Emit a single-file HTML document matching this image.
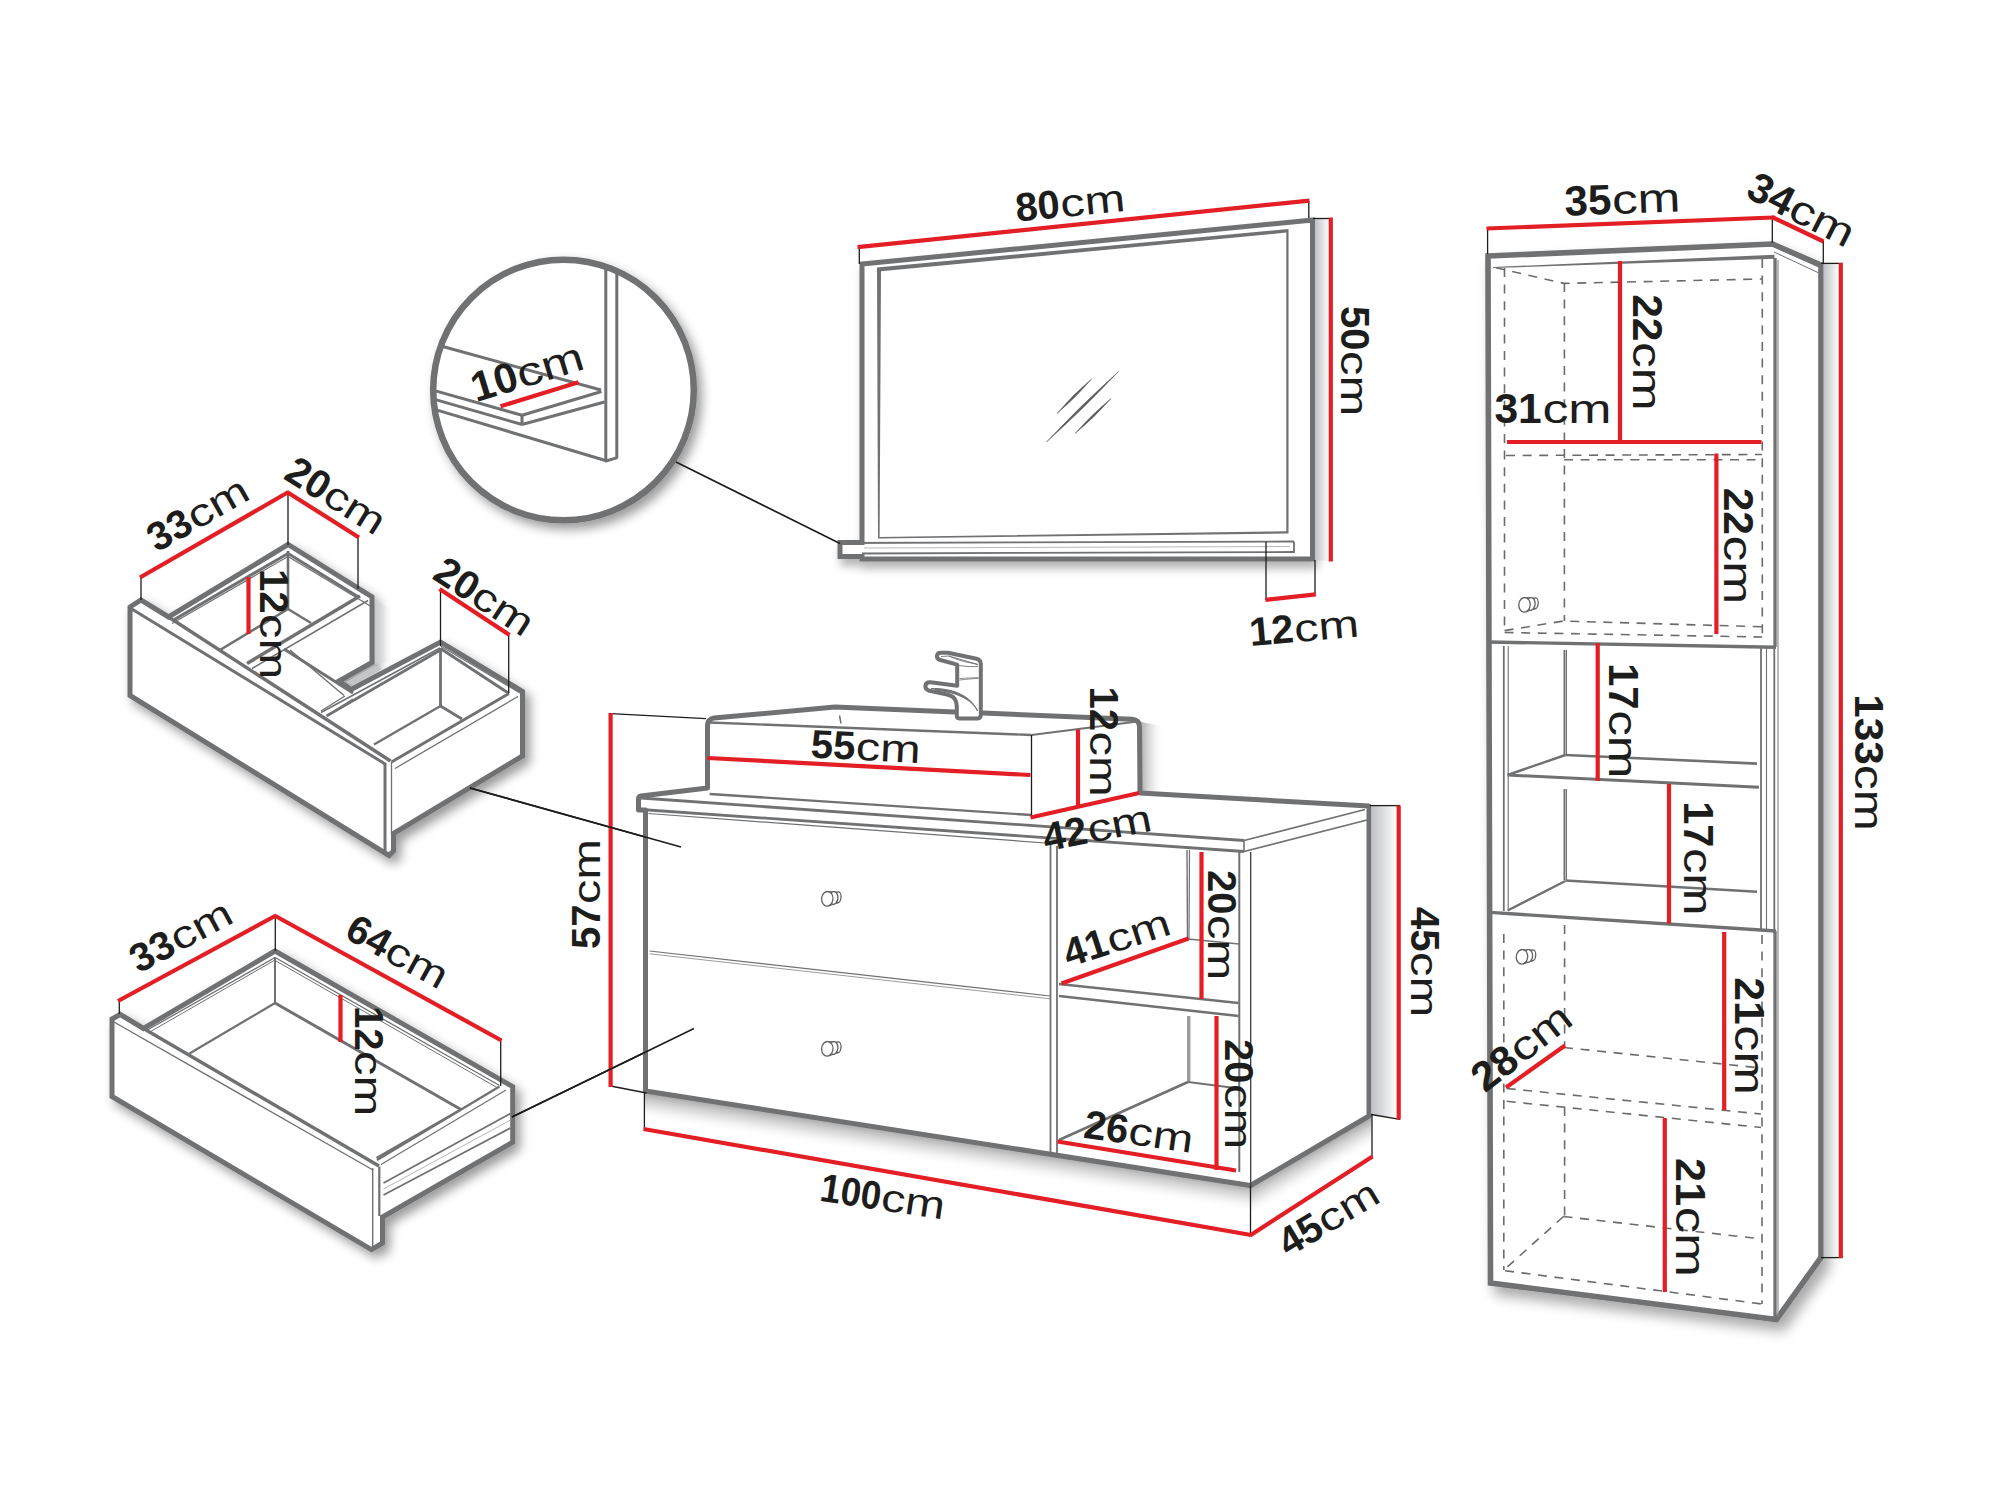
<!DOCTYPE html>
<html><head><meta charset="utf-8"><title>Dimensions</title>
<style>
html,body{margin:0;padding:0;background:#fff;}
body{width:2000px;height:1500px;overflow:hidden;font-family:"Liberation Sans",sans-serif;}
svg{display:block;}
svg text{font-family:"Liberation Sans",sans-serif;}
</style></head><body>
<svg width="2000" height="1500" viewBox="0 0 2000 1500">
<defs>
<filter id="sh" x="-20%" y="-20%" width="150%" height="150%">
<feGaussianBlur in="SourceAlpha" stdDeviation="5.5"/><feOffset dx="5" dy="6" result="b"/>
<feComponentTransfer><feFuncA type="linear" slope="0.4"/></feComponentTransfer>
<feMerge><feMergeNode/><feMergeNode in="SourceGraphic"/></feMerge>
</filter>
<filter id="sh3" x="-10%" y="-10%" width="125%" height="130%">
<feGaussianBlur in="SourceAlpha" stdDeviation="5"/><feOffset dx="3" dy="7" result="b"/>
<feComponentTransfer><feFuncA type="linear" slope="0.3"/></feComponentTransfer>
<feMerge><feMergeNode/><feMergeNode in="SourceGraphic"/></feMerge>
</filter>
<filter id="sh2" x="-20%" y="-10%" width="150%" height="125%">
<feGaussianBlur in="SourceAlpha" stdDeviation="6.5"/><feOffset dx="6" dy="9" result="b"/>
<feComponentTransfer><feFuncA type="linear" slope="0.34"/></feComponentTransfer>
<feMerge><feMergeNode/><feMergeNode in="SourceGraphic"/></feMerge>
</filter>
<linearGradient id="side" x1="0" x2="1" y1="0" y2="0"><stop offset="0" stop-color="#bfc0c4"/><stop offset="1" stop-color="#ffffff"/></linearGradient>
<clipPath id="cclip"><circle cx="563.5" cy="390" r="128.5"/></clipPath>
</defs>
<rect width="2000" height="1500" fill="#ffffff"/>
<g id="mirror">
<g filter="url(#sh3)">
<path d="M840.0,542.5 L862.0,542.5 L862.0,264.0 L1312.5,220.0 L1312.5,559.0 L862.0,559.0 L862.0,556.5 L840.0,556.5 Z" stroke="#707173" stroke-width="5" fill="#fff" />
</g>
<rect x="1315" y="218.5" width="14" height="342" fill="url(#side)"/>
<line x1="1313.0" y1="218.5" x2="1329.0" y2="218.5" stroke="#1d1d1b" stroke-width="1.3" />
<path d="M877,267.5 L1288.5,229 L1288.5,533.5 L878,538.5 Z M881,271.3 L1286.3,232.6 L1286.3,531.2 L879.6,536.9 Z" fill="#707173" fill-rule="evenodd" stroke="none"/>
<line x1="841.0" y1="543.0" x2="1294.0" y2="541.5" stroke="#707173" stroke-width="1.8" />
<line x1="1294.0" y1="541.5" x2="1294.0" y2="553.0" stroke="#707173" stroke-width="1.8" />
<line x1="862.0" y1="553.5" x2="1294.0" y2="552.0" stroke="#707173" stroke-width="1.8" />
<line x1="864.0" y1="548.0" x2="1290.0" y2="546.5" stroke="#b8b9bc" stroke-width="1" />
<path d="M1046.5,442 Q1080.9,405.15 1118.5,371.5 Q1084.1,408.35 1046.5,442 Z" fill="#5d5e62" stroke="#5d5e62" stroke-width="0.5"/>
<path d="M1057,413.5 Q1072.75,394.75 1091.5,379 Q1075.75,397.75 1057,413.5 Z" fill="#5d5e62" stroke="#5d5e62" stroke-width="0.5"/>
<path d="M1075,433.6 Q1091.5,414.55 1111,398.5 Q1094.5,417.55 1075,433.6 Z" fill="#5d5e62" stroke="#5d5e62" stroke-width="0.5"/>
<line x1="859.3" y1="247.0" x2="859.3" y2="264.0" stroke="#1d1d1b" stroke-width="1.3" />
<line x1="1308.8" y1="201.0" x2="1308.8" y2="218.0" stroke="#1d1d1b" stroke-width="1.3" />
<line x1="857.5" y1="247.2" x2="1309.5" y2="200.6" stroke="#e31e24" stroke-width="4.2" stroke-linecap="butt"/>
<line x1="1330.8" y1="217.5" x2="1330.8" y2="561.5" stroke="#e31e24" stroke-width="4.2" stroke-linecap="butt"/>
<line x1="1266.0" y1="542.0" x2="1266.0" y2="600.0" stroke="#1d1d1b" stroke-width="1.3" />
<line x1="1315.0" y1="560.0" x2="1315.0" y2="594.0" stroke="#1d1d1b" stroke-width="1.3" />
<line x1="1265.5" y1="599.8" x2="1315.8" y2="594.4" stroke="#e31e24" stroke-width="4.2" stroke-linecap="butt"/>
<g transform="translate(1070.0,202.0) rotate(-5.5)" fill="#1d1d1b"><text x="-55.0" y="14.3" font-size="40.0" font-weight="bold" textLength="44.5" lengthAdjust="spacingAndGlyphs">80</text><text x="-10.0" y="14.3" font-size="39.0" textLength="65.0" lengthAdjust="spacingAndGlyphs">cm</text></g>
<g transform="translate(1355.0,361.0) rotate(90)" fill="#1d1d1b"><text x="-55.0" y="14.3" font-size="40.0" font-weight="bold" textLength="44.5" lengthAdjust="spacingAndGlyphs">50</text><text x="-10.0" y="14.3" font-size="39.0" textLength="65.0" lengthAdjust="spacingAndGlyphs">cm</text></g>
<g transform="translate(1304.0,627.0) rotate(-5)" fill="#1d1d1b"><text x="-55.0" y="14.3" font-size="40.0" font-weight="bold" textLength="44.5" lengthAdjust="spacingAndGlyphs">12</text><text x="-10.0" y="14.3" font-size="39.0" textLength="65.0" lengthAdjust="spacingAndGlyphs">cm</text></g>
</g>
<g id="mag">
<g filter="url(#sh)"><circle cx="563.5" cy="390" r="130.3" fill="#fff" stroke="#707173" stroke-width="6.5"/></g>
<g clip-path="url(#cclip)">
<line x1="605.8" y1="255.0" x2="605.8" y2="461.0" stroke="#707173" stroke-width="3" />
<line x1="616.8" y1="255.0" x2="616.8" y2="458.0" stroke="#707173" stroke-width="3" />
<line x1="605.0" y1="461.2" x2="617.5" y2="457.6" stroke="#707173" stroke-width="3" />
<line x1="430.0" y1="343.0" x2="601.0" y2="390.0" stroke="#707173" stroke-width="3" />
<line x1="430.0" y1="389.3" x2="522.0" y2="415.3" stroke="#707173" stroke-width="3" />
<line x1="522.0" y1="415.3" x2="601.5" y2="391.5" stroke="#707173" stroke-width="3" />
<line x1="522.0" y1="415.3" x2="522.0" y2="424.5" stroke="#707173" stroke-width="3" />
<line x1="430.0" y1="398.0" x2="522.0" y2="424.5" stroke="#707173" stroke-width="3" />
<line x1="522.0" y1="424.5" x2="604.5" y2="402.0" stroke="#707173" stroke-width="3" />
<line x1="430.0" y1="408.0" x2="605.5" y2="460.5" stroke="#707173" stroke-width="3" />
</g>
<line x1="500.5" y1="406.3" x2="578.5" y2="382.3" stroke="#e31e24" stroke-width="4.2" stroke-linecap="butt"/>
<g transform="translate(527.0,371.0) rotate(-17)" fill="#1d1d1b"><text x="-57.8" y="15.015" font-size="42.0" font-weight="bold" textLength="46.7" lengthAdjust="spacingAndGlyphs">10</text><text x="-10.5" y="15.015" font-size="41.0" textLength="68.2" lengthAdjust="spacingAndGlyphs">cm</text></g>
<line x1="676.0" y1="462.0" x2="840.0" y2="543.5" stroke="#1d1d1b" stroke-width="1.7" />
</g>
<g id="udrawer">
<g filter="url(#sh)">
<path d="M130.0,607.0 L141.0,600.0 L168.5,617.0 L288.0,544.5 L372.0,597.0 L372.0,662.5 L339.0,681.0 L351.0,689.5 L440.5,642.0 L522.5,691.5 L522.5,756.0 L393.5,833.5 L393.5,851.0 L389.0,855.5 L130.0,695.5 Z" stroke="#707173" stroke-width="5" fill="#fff" stroke-linejoin="miter"/>
</g>
<path d="M346.0,682.0 L374.0,666.0 L382.0,668.5 L353.0,685.5 Z" stroke="none" stroke-width="0" fill="#c4c5c7" />
<linearGradient id="ng" x1="0" x2="1" y1="0" y2="0"><stop offset="0" stop-color="#c9cacc"/><stop offset="1" stop-color="#fff" stop-opacity="0"/></linearGradient>
<path d="M375.0,600.0 L395.0,612.0 L395.0,660.0 L375.0,664.0 Z" stroke="none" stroke-width="0" fill="url(#ng)" />
<line x1="131.0" y1="608.5" x2="386.0" y2="764.5" stroke="#707173" stroke-width="3" />
<line x1="168.5" y1="617.0" x2="390.5" y2="761.0" stroke="#707173" stroke-width="3.5" />
<line x1="385.0" y1="764.0" x2="385.0" y2="853.0" stroke="#707173" stroke-width="3" />
<line x1="391.5" y1="762.0" x2="391.5" y2="835.0" stroke="#707173" stroke-width="1.3" />
<line x1="173.5" y1="620.0" x2="288.0" y2="553.5" stroke="#707173" stroke-width="3" />
<line x1="172.0" y1="623.5" x2="288.0" y2="556.5" stroke="#707173" stroke-width="1.2" />
<line x1="288.0" y1="553.5" x2="358.5" y2="597.0" stroke="#707173" stroke-width="3" />
<line x1="288.0" y1="556.5" x2="372.0" y2="607.0" stroke="#707173" stroke-width="1.2" />
<line x1="288.0" y1="551.0" x2="288.0" y2="609.0" stroke="#707173" stroke-width="2.6" />
<line x1="288.0" y1="609.0" x2="311.0" y2="623.0" stroke="#707173" stroke-width="2.6" />
<line x1="288.0" y1="609.0" x2="220.0" y2="650.0" stroke="#707173" stroke-width="2.6" />
<line x1="220.0" y1="650.0" x2="250.0" y2="632.0" stroke="#707173" stroke-width="1.2" />
<line x1="360.0" y1="596.0" x2="247.0" y2="663.5" stroke="#707173" stroke-width="3.5" />
<line x1="368.0" y1="600.5" x2="252.0" y2="668.5" stroke="#707173" stroke-width="1.6" />
<line x1="284.0" y1="649.0" x2="353.0" y2="693.0" stroke="#707173" stroke-width="3" />
<line x1="290.0" y1="650.0" x2="344.0" y2="695.5" stroke="#707173" stroke-width="1.4" />
<line x1="321.0" y1="711.0" x2="345.0" y2="696.0" stroke="#707173" stroke-width="1.4" />
<line x1="328.0" y1="715.0" x2="353.0" y2="699.0" stroke="#707173" stroke-width="1.4" />
<line x1="321.0" y1="712.5" x2="440.0" y2="648.0" stroke="#707173" stroke-width="1.6" />
<line x1="326.5" y1="716.0" x2="440.5" y2="650.0" stroke="#707173" stroke-width="2.6" />
<line x1="440.5" y1="648.5" x2="509.0" y2="693.5" stroke="#707173" stroke-width="3" />
<line x1="440.5" y1="646.0" x2="520.0" y2="693.0" stroke="#707173" stroke-width="1.2" />
<line x1="440.5" y1="648.0" x2="440.5" y2="706.0" stroke="#707173" stroke-width="2.8" />
<line x1="440.5" y1="706.0" x2="462.0" y2="719.0" stroke="#707173" stroke-width="2.8" />
<line x1="440.5" y1="706.0" x2="374.0" y2="744.5" stroke="#707173" stroke-width="2.4" />
<line x1="509.0" y1="693.5" x2="391.5" y2="762.0" stroke="#707173" stroke-width="3" />
<line x1="518.0" y1="696.5" x2="395.0" y2="768.5" stroke="#707173" stroke-width="1.3" />
<line x1="141.0" y1="576.5" x2="141.0" y2="600.0" stroke="#1d1d1b" stroke-width="1.3" />
<line x1="288.0" y1="493.0" x2="288.0" y2="545.0" stroke="#1d1d1b" stroke-width="1.3" />
<line x1="358.0" y1="537.0" x2="358.0" y2="589.0" stroke="#1d1d1b" stroke-width="1.3" />
<line x1="440.5" y1="589.5" x2="440.5" y2="646.0" stroke="#1d1d1b" stroke-width="1.3" />
<line x1="508.7" y1="634.0" x2="508.7" y2="693.0" stroke="#1d1d1b" stroke-width="1.3" />
<line x1="140.0" y1="577.5" x2="288.5" y2="492.0" stroke="#e31e24" stroke-width="4.2" stroke-linecap="butt"/>
<line x1="287.0" y1="492.0" x2="359.0" y2="537.5" stroke="#e31e24" stroke-width="4.2" stroke-linecap="butt"/>
<line x1="439.5" y1="589.0" x2="509.5" y2="635.0" stroke="#e31e24" stroke-width="4.2" stroke-linecap="butt"/>
<line x1="248.5" y1="577.0" x2="248.5" y2="634.0" stroke="#e31e24" stroke-width="4.2" stroke-linecap="butt"/>
<g transform="translate(197.5,513.0) rotate(-29.7)" fill="#1d1d1b"><text x="-55.0" y="14.3" font-size="40.0" font-weight="bold" textLength="44.5" lengthAdjust="spacingAndGlyphs">33</text><text x="-10.0" y="14.3" font-size="39.0" textLength="65.0" lengthAdjust="spacingAndGlyphs">cm</text></g>
<g transform="translate(336.5,495.0) rotate(32)" fill="#1d1d1b"><text x="-55.0" y="14.3" font-size="40.0" font-weight="bold" textLength="44.5" lengthAdjust="spacingAndGlyphs">20</text><text x="-10.0" y="14.3" font-size="39.0" textLength="65.0" lengthAdjust="spacingAndGlyphs">cm</text></g>
<g transform="translate(485.0,596.0) rotate(33)" fill="#1d1d1b"><text x="-55.0" y="14.3" font-size="40.0" font-weight="bold" textLength="44.5" lengthAdjust="spacingAndGlyphs">20</text><text x="-10.0" y="14.3" font-size="39.0" textLength="65.0" lengthAdjust="spacingAndGlyphs">cm</text></g>
<g transform="translate(274.5,624.0) rotate(90)" fill="#1d1d1b"><text x="-55.0" y="14.3" font-size="40.0" font-weight="bold" textLength="44.5" lengthAdjust="spacingAndGlyphs">12</text><text x="-10.0" y="14.3" font-size="39.0" textLength="65.0" lengthAdjust="spacingAndGlyphs">cm</text></g>
<line x1="470.0" y1="788.0" x2="681.0" y2="847.0" stroke="#1d1d1b" stroke-width="1.6" />
</g>
<g id="bdrawer">
<g filter="url(#sh)">
<path d="M112.0,1019.0 L120.3,1014.5 L143.5,1028.5 L275.0,951.0 L512.7,1086.7 L512.7,1142.2 L382.5,1217.0 L382.5,1243.0 L371.5,1249.7 L112.0,1096.5 Z" stroke="#707173" stroke-width="5" fill="#fff" />
</g>
<line x1="114.0" y1="1022.0" x2="373.0" y2="1170.0" stroke="#707173" stroke-width="1.4" />
<line x1="143.5" y1="1028.5" x2="379.0" y2="1166.0" stroke="#707173" stroke-width="3.5" />
<line x1="372.7" y1="1168.0" x2="372.7" y2="1247.0" stroke="#707173" stroke-width="1.4" />
<line x1="379.3" y1="1166.5" x2="379.3" y2="1216.0" stroke="#707173" stroke-width="2.2" />
<line x1="146.5" y1="1030.5" x2="275.0" y2="957.5" stroke="#707173" stroke-width="1.3" />
<line x1="148.0" y1="1033.0" x2="275.0" y2="960.0" stroke="#707173" stroke-width="1.0" />
<line x1="276.0" y1="958.0" x2="499.5" y2="1085.5" stroke="#707173" stroke-width="1.3" />
<line x1="276.0" y1="961.0" x2="497.0" y2="1087.5" stroke="#707173" stroke-width="1.0" />
<line x1="275.0" y1="957.0" x2="275.0" y2="1003.0" stroke="#707173" stroke-width="2" />
<line x1="275.0" y1="1003.0" x2="189.5" y2="1053.5" stroke="#707173" stroke-width="2.2" />
<line x1="275.0" y1="1003.0" x2="461.0" y2="1109.5" stroke="#707173" stroke-width="3" />
<line x1="461.0" y1="1109.5" x2="376.5" y2="1158.0" stroke="#707173" stroke-width="2.2" />
<line x1="499.5" y1="1086.5" x2="377.0" y2="1160.0" stroke="#707173" stroke-width="2.4" />
<line x1="506.0" y1="1090.0" x2="381.0" y2="1164.5" stroke="#707173" stroke-width="1.2" />
<line x1="510.5" y1="1113.5" x2="383.5" y2="1183.0" stroke="#707173" stroke-width="1.8" />
<line x1="510.5" y1="1128.0" x2="383.5" y2="1195.0" stroke="#707173" stroke-width="1.8" />
<line x1="510.5" y1="1120.0" x2="383.5" y2="1189.0" stroke="#b5b6b8" stroke-width="1" />
<line x1="119.3" y1="1000.0" x2="119.3" y2="1014.0" stroke="#1d1d1b" stroke-width="1.3" />
<line x1="275.3" y1="916.0" x2="275.3" y2="951.0" stroke="#1d1d1b" stroke-width="1.3" />
<line x1="500.7" y1="1040.0" x2="500.7" y2="1086.0" stroke="#1d1d1b" stroke-width="1.3" />
<line x1="118.0" y1="1001.0" x2="276.0" y2="915.5" stroke="#e31e24" stroke-width="4.2" stroke-linecap="butt"/>
<line x1="274.5" y1="915.5" x2="501.5" y2="1040.5" stroke="#e31e24" stroke-width="4.2" stroke-linecap="butt"/>
<line x1="340.5" y1="995.0" x2="340.5" y2="1042.0" stroke="#e31e24" stroke-width="4.2" stroke-linecap="butt"/>
<g transform="translate(180.5,935.0) rotate(-28.3)" fill="#1d1d1b"><text x="-55.0" y="14.3" font-size="40.0" font-weight="bold" textLength="44.5" lengthAdjust="spacingAndGlyphs">33</text><text x="-10.0" y="14.3" font-size="39.0" textLength="65.0" lengthAdjust="spacingAndGlyphs">cm</text></g>
<g transform="translate(398.0,951.0) rotate(28.8)" fill="#1d1d1b"><text x="-55.0" y="14.3" font-size="40.0" font-weight="bold" textLength="44.5" lengthAdjust="spacingAndGlyphs">64</text><text x="-10.0" y="14.3" font-size="39.0" textLength="65.0" lengthAdjust="spacingAndGlyphs">cm</text></g>
<g transform="translate(369.0,1061.0) rotate(90)" fill="#1d1d1b"><text x="-55.0" y="14.3" font-size="40.0" font-weight="bold" textLength="44.5" lengthAdjust="spacingAndGlyphs">12</text><text x="-10.0" y="14.3" font-size="39.0" textLength="65.0" lengthAdjust="spacingAndGlyphs">cm</text></g>
<line x1="512.0" y1="1117.0" x2="694.0" y2="1028.5" stroke="#1d1d1b" stroke-width="1.6" />
</g>
<g id="vanity">
<linearGradient id="vb1" gradientUnits="userSpaceOnUse" x1="645" y1="1093" x2="641" y2="1119"><stop offset="0" stop-color="#8c8c8c" stop-opacity="0.75"/><stop offset="0.5" stop-color="#b5b5b5" stop-opacity="0.35"/><stop offset="1" stop-color="#fff" stop-opacity="0"/></linearGradient>
<linearGradient id="vb2" gradientUnits="userSpaceOnUse" x1="1250.5" y1="1187" x2="1263.5" y2="1209.5"><stop offset="0" stop-color="#8c8c8c" stop-opacity="0.75"/><stop offset="0.5" stop-color="#b5b5b5" stop-opacity="0.35"/><stop offset="1" stop-color="#fff" stop-opacity="0"/></linearGradient>
<linearGradient id="vb3" x1="0" x2="1" y1="0" y2="0"><stop offset="0" stop-color="#8c8c8c" stop-opacity="0.7"/><stop offset="0.5" stop-color="#b5b5b5" stop-opacity="0.3"/><stop offset="1" stop-color="#fff" stop-opacity="0"/></linearGradient>
<path d="M644,1091 L1250.5,1186 L1250.5,1216 L644,1121 Z" fill="url(#vb1)"/>
<path d="M1250.5,1186 L1371.5,1116 L1371.5,1146 L1250.5,1216 Z" fill="url(#vb2)"/>
<path d="M1141,722 L1164,726 L1164,793 L1141,793 Z" fill="url(#vb3)"/>
<path d="M707.5,788 L641,796 Q638.5,796.3 638.5,799 L638.5,810 L645.5,810 L645.5,1091 L1250.5,1185.5 L1369,1116 L1369,806 L1140,793 L1139.5,727 Q1139.5,720 1132,719.3 L983,713 L955,712 L835,707 L714,718 Q707.5,719 707.5,726 Z" stroke="#707173" stroke-width="5" fill="#fff" stroke-linejoin="round"/>
<path d="M1371.5,806 L1397,806 L1397,1119 L1371.5,1114.5 Z" fill="url(#side)"/>
<line x1="1370.0" y1="805.6" x2="1400.0" y2="805.6" stroke="#1d1d1b" stroke-width="1.3" />
<line x1="1371.0" y1="1114.5" x2="1400.0" y2="1119.3" stroke="#1d1d1b" stroke-width="1.3" />
<line x1="709.6" y1="722.5" x2="1031.5" y2="735.0" stroke="#707173" stroke-width="2.4" />
<line x1="1031.5" y1="735.0" x2="1137.5" y2="721.5" stroke="#707173" stroke-width="2.2" />
<line x1="709.6" y1="794.0" x2="1031.5" y2="815.0" stroke="#707173" stroke-width="2.4" />
<line x1="1031.5" y1="735.0" x2="1031.5" y2="816.0" stroke="#1d1d1b" stroke-width="1.3" />
<line x1="839.5" y1="715.5" x2="841.0" y2="723.5" stroke="#707173" stroke-width="1.5" />
<path d="M959.5,718.4 Q956.8,718.4 956.8,715.5 L956.8,708 C956.8,699 954,696 946,694.2 L929.5,690.8 Q925,689.5 925.4,686 Q925.8,682 930.5,682.3 L957.2,685.8 L957.2,664.6 L939.5,659.8 Q936.5,658.5 937,655.5 Q937.6,652.6 941,652.7 L948,652.8 L976.5,658.7 Q980.8,659.8 980.8,664 L980.8,715 Q980.8,718.4 977.5,718.4 Z" stroke="#707173" stroke-width="4" fill="#fff" stroke-linejoin="round"/>
<path d="M941,656.5 L949,656 L978,664.5 M949,656 C958,660.5 968,662.5 978,664.5 M959,665.5 C966,666.5 973,667 978,666.5" stroke="#707173" stroke-width="0.9" fill="none"/>
<path d="M959.5,678.5 C966,678.2 973,677.8 978.5,677.6 M959.5,680 C966,679.3 973,678.6 978.5,678.4" stroke="#707173" stroke-width="0.8" fill="none"/>
<path d="M931,688.5 C950,688 970,694 977.5,711 C972,699 955,692 937,690.5" stroke="#707173" stroke-width="1" fill="#707173"/>
<line x1="641.0" y1="798.0" x2="1244.0" y2="840.5" stroke="#707173" stroke-width="2.8" />
<line x1="641.0" y1="809.5" x2="1244.0" y2="851.5" stroke="#707173" stroke-width="2.8" />
<line x1="1244.0" y1="840.5" x2="1244.0" y2="851.5" stroke="#707173" stroke-width="1.6" />
<line x1="1244.0" y1="840.5" x2="1365.0" y2="809.5" stroke="#707173" stroke-width="1.8" />
<line x1="1244.0" y1="851.5" x2="1367.0" y2="820.0" stroke="#707173" stroke-width="1.8" />
<line x1="648.5" y1="813.5" x2="1052.0" y2="843.5" stroke="#707173" stroke-width="1.2" />
<line x1="649.5" y1="951.0" x2="1050.0" y2="996.0" stroke="#707173" stroke-width="1.2" />
<line x1="649.5" y1="953.8" x2="1050.0" y2="998.8" stroke="#9a9b9d" stroke-width="1" />
<line x1="1050.5" y1="843.0" x2="1050.5" y2="1154.0" stroke="#707173" stroke-width="1.8" />
<line x1="1057.0" y1="846.0" x2="1057.0" y2="1155.0" stroke="#707173" stroke-width="1.8" />
<line x1="1239.3" y1="852.0" x2="1239.3" y2="1172.0" stroke="#707173" stroke-width="2" />
<line x1="1250.7" y1="852.0" x2="1250.7" y2="1186.0" stroke="#3c3c3c" stroke-width="1.3" />
<line x1="1187.0" y1="850.0" x2="1187.5" y2="939.0" stroke="#707173" stroke-width="1.4" />
<line x1="1189.5" y1="850.0" x2="1189.0" y2="939.0" stroke="#707173" stroke-width="1.2" />
<line x1="1188.0" y1="939.0" x2="1239.0" y2="944.0" stroke="#707173" stroke-width="1.6" />
<line x1="1059.0" y1="984.0" x2="1238.5" y2="1003.0" stroke="#707173" stroke-width="2.6" />
<line x1="1059.0" y1="996.0" x2="1238.5" y2="1016.0" stroke="#707173" stroke-width="2.6" />
<line x1="1188.0" y1="1016.0" x2="1188.0" y2="1082.0" stroke="#707173" stroke-width="1.4" />
<line x1="1189.8" y1="1016.0" x2="1189.8" y2="1082.0" stroke="#707173" stroke-width="1.0" />
<line x1="1059.0" y1="1140.0" x2="1188.0" y2="1082.0" stroke="#707173" stroke-width="2.6" />
<line x1="1188.0" y1="1082.0" x2="1239.0" y2="1088.5" stroke="#707173" stroke-width="2.2" />
<g stroke="#5f6062" stroke-width="1.3" fill="#fff"><path d="M826.8,891.6 L838.3,892.2 L838.3,902.6 L827.8,906.0 Z" stroke="none"/><ellipse cx="838.1" cy="897.3" rx="2.9" ry="5.4" transform="rotate(5 838.1 897.3)"/><path d="M826.8,891.6 L837.5,892.0 M828.3,905.9 L838.9,902.5" fill="none" stroke-width="1.1"/><ellipse cx="833.6" cy="898.0" rx="4.3" ry="6.3" transform="rotate(5 833.6 898.0)"/><ellipse cx="827.3" cy="898.8" rx="5.7" ry="7.3" transform="rotate(5 827.3 898.8)"/></g>
<g stroke="#5f6062" stroke-width="1.3" fill="#fff"><path d="M826.8,1041.6 L838.3,1042.2 L838.3,1052.6 L827.8,1056.0 Z" stroke="none"/><ellipse cx="838.1" cy="1047.3" rx="2.9" ry="5.4" transform="rotate(5 838.1 1047.3)"/><path d="M826.8,1041.6 L837.5,1042.0 M828.3,1055.9 L838.9,1052.5" fill="none" stroke-width="1.1"/><ellipse cx="833.6" cy="1048.0" rx="4.3" ry="6.3" transform="rotate(5 833.6 1048.0)"/><ellipse cx="827.3" cy="1048.8" rx="5.7" ry="7.3" transform="rotate(5 827.3 1048.8)"/></g>
<line x1="610.6" y1="713.6" x2="706.0" y2="718.6" stroke="#1d1d1b" stroke-width="1.3" />
<line x1="610.6" y1="1086.0" x2="646.6" y2="1093.0" stroke="#1d1d1b" stroke-width="1.3" />
<line x1="610.6" y1="713.0" x2="610.6" y2="1087.0" stroke="#e31e24" stroke-width="4.2" stroke-linecap="butt"/>
<line x1="707.5" y1="758.0" x2="1030.5" y2="775.0" stroke="#e31e24" stroke-width="4.2" stroke-linecap="butt"/>
<line x1="1078.0" y1="729.5" x2="1078.0" y2="805.0" stroke="#e31e24" stroke-width="4.2" stroke-linecap="butt"/>
<line x1="1030.5" y1="817.5" x2="1139.0" y2="793.0" stroke="#e31e24" stroke-width="4.2" stroke-linecap="butt"/>
<line x1="1061.5" y1="983.5" x2="1188.5" y2="938.5" stroke="#e31e24" stroke-width="4.2" stroke-linecap="butt"/>
<line x1="1201.5" y1="852.0" x2="1201.5" y2="999.0" stroke="#e31e24" stroke-width="4.2" stroke-linecap="butt"/>
<line x1="1216.5" y1="1016.0" x2="1216.5" y2="1170.0" stroke="#e31e24" stroke-width="4.2" stroke-linecap="butt"/>
<line x1="1057.5" y1="1141.5" x2="1236.0" y2="1170.5" stroke="#e31e24" stroke-width="4.2" stroke-linecap="butt"/>
<line x1="1398.7" y1="805.5" x2="1398.7" y2="1119.5" stroke="#e31e24" stroke-width="4.2" stroke-linecap="butt"/>
<line x1="644.4" y1="1093.0" x2="644.4" y2="1129.0" stroke="#1d1d1b" stroke-width="1.3" />
<line x1="1250.5" y1="1186.0" x2="1250.5" y2="1235.0" stroke="#1d1d1b" stroke-width="1.3" />
<line x1="1372.0" y1="1114.5" x2="1372.0" y2="1158.0" stroke="#1d1d1b" stroke-width="1.3" />
<line x1="643.5" y1="1129.0" x2="1251.0" y2="1235.0" stroke="#e31e24" stroke-width="4.2" stroke-linecap="butt"/>
<line x1="1250.0" y1="1235.5" x2="1372.5" y2="1156.5" stroke="#e31e24" stroke-width="4.2" stroke-linecap="butt"/>
<g transform="translate(586.0,894.0) rotate(-90)" fill="#1d1d1b"><text x="-55.0" y="14.3" font-size="40.0" font-weight="bold" textLength="44.5" lengthAdjust="spacingAndGlyphs">57</text><text x="-10.0" y="14.3" font-size="39.0" textLength="65.0" lengthAdjust="spacingAndGlyphs">cm</text></g>
<g transform="translate(866.0,746.0) rotate(3)" fill="#1d1d1b"><text x="-55.0" y="14.3" font-size="40.0" font-weight="bold" textLength="44.5" lengthAdjust="spacingAndGlyphs">55</text><text x="-10.0" y="14.3" font-size="39.0" textLength="65.0" lengthAdjust="spacingAndGlyphs">cm</text></g>
<g transform="translate(1104.0,741.5) rotate(90)" fill="#1d1d1b"><text x="-55.0" y="14.3" font-size="40.0" font-weight="bold" textLength="44.5" lengthAdjust="spacingAndGlyphs">12</text><text x="-10.0" y="14.3" font-size="39.0" textLength="65.0" lengthAdjust="spacingAndGlyphs">cm</text></g>
<g transform="translate(1097.0,827.0) rotate(-11)" fill="#1d1d1b"><text x="-55.0" y="14.3" font-size="40.0" font-weight="bold" textLength="44.5" lengthAdjust="spacingAndGlyphs">42</text><text x="-10.0" y="14.3" font-size="39.0" textLength="65.0" lengthAdjust="spacingAndGlyphs">cm</text></g>
<g transform="translate(1116.5,937.0) rotate(-18)" fill="#1d1d1b"><text x="-55.0" y="14.3" font-size="40.0" font-weight="bold" textLength="44.5" lengthAdjust="spacingAndGlyphs">41</text><text x="-10.0" y="14.3" font-size="39.0" textLength="65.0" lengthAdjust="spacingAndGlyphs">cm</text></g>
<g transform="translate(1222.0,925.0) rotate(90)" fill="#1d1d1b"><text x="-55.0" y="14.3" font-size="40.0" font-weight="bold" textLength="44.5" lengthAdjust="spacingAndGlyphs">20</text><text x="-10.0" y="14.3" font-size="39.0" textLength="65.0" lengthAdjust="spacingAndGlyphs">cm</text></g>
<g transform="translate(1239.0,1094.0) rotate(90)" fill="#1d1d1b"><text x="-55.0" y="14.3" font-size="40.0" font-weight="bold" textLength="44.5" lengthAdjust="spacingAndGlyphs">20</text><text x="-10.0" y="14.3" font-size="39.0" textLength="65.0" lengthAdjust="spacingAndGlyphs">cm</text></g>
<g transform="translate(1139.0,1131.0) rotate(8)" fill="#1d1d1b"><text x="-55.0" y="14.3" font-size="40.0" font-weight="bold" textLength="44.5" lengthAdjust="spacingAndGlyphs">26</text><text x="-10.0" y="14.3" font-size="39.0" textLength="65.0" lengthAdjust="spacingAndGlyphs">cm</text></g>
<g transform="translate(1425.0,962.0) rotate(90)" fill="#1d1d1b"><text x="-55.0" y="14.3" font-size="40.0" font-weight="bold" textLength="44.5" lengthAdjust="spacingAndGlyphs">45</text><text x="-10.0" y="14.3" font-size="39.0" textLength="65.0" lengthAdjust="spacingAndGlyphs">cm</text></g>
<g transform="translate(883.0,1196.0) rotate(8.5)" fill="#1d1d1b"><text x="-62.8" y="14.3" font-size="40.0" font-weight="bold" textLength="61.0" lengthAdjust="spacingAndGlyphs">100</text><text x="-1.2" y="14.3" font-size="39.0" textLength="64.0" lengthAdjust="spacingAndGlyphs">cm</text></g>
<g transform="translate(1328.0,1217.0) rotate(-31)" fill="#1d1d1b"><text x="-55.0" y="14.3" font-size="40.0" font-weight="bold" textLength="44.5" lengthAdjust="spacingAndGlyphs">45</text><text x="-10.0" y="14.3" font-size="39.0" textLength="65.0" lengthAdjust="spacingAndGlyphs">cm</text></g>
</g>
<g id="tall">
<g filter="url(#sh2)">
<path d="M1488.0,256.0 L1772.5,244.0 L1821.0,265.0 L1821.0,1257.5 L1776.5,1319.5 L1490.5,1283.0 Z" stroke="#707173" stroke-width="5.6" fill="#fff" />
</g>
<rect x="1823.5" y="263.5" width="15.5" height="994" fill="url(#side)"/>
<line x1="1821.0" y1="263.4" x2="1842.5" y2="263.4" stroke="#1d1d1b" stroke-width="1.3" />
<line x1="1821.0" y1="1257.6" x2="1842.5" y2="1257.6" stroke="#1d1d1b" stroke-width="1.3" />
<path d="M1493.0,267.0 L1774.5,254.8 L1774.5,258.8 L1493.0,268.0 Z" stroke="none" stroke-width="0" fill="#707173" />
<line x1="1772.5" y1="246.0" x2="1819.0" y2="267.0" stroke="#707173" stroke-width="1.2" />
<line x1="1774.0" y1="252.0" x2="1819.0" y2="273.0" stroke="#707173" stroke-width="1.0" />
<line x1="1774.3" y1="258.0" x2="1774.3" y2="1318.0" stroke="#707173" stroke-width="1.8" />
<line x1="1778.0" y1="260.0" x2="1778.0" y2="1316.0" stroke="#8a8b8d" stroke-width="1.2" />
<line x1="1488.0" y1="642.0" x2="1776.0" y2="647.2" stroke="#707173" stroke-width="3.4" />
<line x1="1775.3" y1="258.0" x2="1775.3" y2="647.0" stroke="#707173" stroke-width="2.8" />
<line x1="1775.3" y1="931.0" x2="1775.3" y2="1318.5" stroke="#707173" stroke-width="2.8" />
<line x1="1503.8" y1="646.0" x2="1503.8" y2="911.0" stroke="#707173" stroke-width="1.8" />
<line x1="1508.2" y1="646.0" x2="1508.2" y2="909.0" stroke="#707173" stroke-width="1.1" />
<line x1="1564.5" y1="650.0" x2="1564.5" y2="755.0" stroke="#707173" stroke-width="2" />
<line x1="1566.5" y1="650.0" x2="1566.5" y2="755.0" stroke="#707173" stroke-width="1.0" />
<line x1="1564.5" y1="789.0" x2="1564.5" y2="880.0" stroke="#707173" stroke-width="2" />
<line x1="1566.5" y1="789.0" x2="1566.5" y2="880.0" stroke="#707173" stroke-width="1.0" />
<line x1="1761.0" y1="648.0" x2="1761.0" y2="930.0" stroke="#707173" stroke-width="1.8" />
<line x1="1766.5" y1="648.0" x2="1766.5" y2="930.0" stroke="#707173" stroke-width="1.1" />
<line x1="1507.6" y1="775.0" x2="1759.0" y2="787.2" stroke="#707173" stroke-width="3" />
<line x1="1565.4" y1="755.0" x2="1757.0" y2="763.6" stroke="#707173" stroke-width="2.6" />
<line x1="1507.6" y1="775.0" x2="1565.4" y2="755.0" stroke="#707173" stroke-width="2.4" />
<line x1="1490.0" y1="912.4" x2="1776.0" y2="931.0" stroke="#707173" stroke-width="3.4" />
<line x1="1565.4" y1="880.5" x2="1757.0" y2="891.7" stroke="#707173" stroke-width="2.6" />
<line x1="1507.6" y1="910.5" x2="1565.4" y2="881.0" stroke="#707173" stroke-width="2.4" />
<path d="M1504.5,268.0 L1504.5,631.0" stroke="#6b6b6b" stroke-width="1.6" fill="none" stroke-dasharray="9 7.6"/>
<path d="M1496.0,267.8 L1564.0,283.4 L1762.0,279.0" stroke="#6b6b6b" stroke-width="1.6" fill="none" stroke-dasharray="9 7.6"/>
<path d="M1564.4,283.0 L1564.4,621.0" stroke="#6b6b6b" stroke-width="1.6" fill="none" stroke-dasharray="9 7.6"/>
<path d="M1762.3,259.0 L1762.3,637.0" stroke="#6b6b6b" stroke-width="1.6" fill="none" stroke-dasharray="9 7.6"/>
<path d="M1506.0,455.5 L1762.0,454.5" stroke="#6b6b6b" stroke-width="1.6" fill="none" stroke-dasharray="9 7.6"/>
<path d="M1564.0,459.8 L1762.0,459.8" stroke="#6b6b6b" stroke-width="1.6" fill="none" stroke-dasharray="9 7.6"/>
<path d="M1504.6,630.6 L1563.5,621.0 L1762.2,626.8" stroke="#6b6b6b" stroke-width="1.6" fill="none" stroke-dasharray="9 7.6"/>
<path d="M1504.6,632.5 L1762.2,637.0" stroke="#6b6b6b" stroke-width="1.6" fill="none" stroke-dasharray="9 7.6"/>
<path d="M1503.8,934.0 L1503.8,1270.0" stroke="#6b6b6b" stroke-width="1.6" fill="none" stroke-dasharray="9 7.6"/>
<path d="M1564.6,925.0 L1564.6,1046.0" stroke="#6b6b6b" stroke-width="1.6" fill="none" stroke-dasharray="9 7.6"/>
<path d="M1564.6,1107.0 L1564.6,1216.0" stroke="#6b6b6b" stroke-width="1.6" fill="none" stroke-dasharray="9 7.6"/>
<path d="M1762.0,935.0 L1762.0,1304.0" stroke="#6b6b6b" stroke-width="1.6" fill="none" stroke-dasharray="9 7.6"/>
<path d="M1564.0,1047.5 L1761.0,1068.0" stroke="#6b6b6b" stroke-width="1.6" fill="none" stroke-dasharray="9 7.6"/>
<path d="M1506.7,1088.5 L1761.0,1114.0" stroke="#6b6b6b" stroke-width="1.6" fill="none" stroke-dasharray="9 7.6"/>
<path d="M1506.7,1101.3 L1761.0,1127.5" stroke="#6b6b6b" stroke-width="1.6" fill="none" stroke-dasharray="9 7.6"/>
<path d="M1563.5,1216.5 L1762.0,1239.0" stroke="#6b6b6b" stroke-width="1.6" fill="none" stroke-dasharray="9 7.6"/>
<path d="M1563.5,1216.5 L1505.0,1269.0" stroke="#6b6b6b" stroke-width="1.6" fill="none" stroke-dasharray="9 7.6"/>
<path d="M1505.0,1270.7 L1762.0,1304.0" stroke="#6b6b6b" stroke-width="1.6" fill="none" stroke-dasharray="9 7.6"/>
<g stroke="#5f6062" stroke-width="1.3" fill="#fff"><path d="M1524.0,597.6 L1535.5,598.2 L1535.5,608.6 L1525.0,612.0 Z" stroke="none"/><ellipse cx="1535.3" cy="603.3" rx="2.9" ry="5.4" transform="rotate(5 1535.3 603.3)"/><path d="M1524.0,597.6 L1534.7,598.0 M1525.5,611.9 L1536.1,608.5" fill="none" stroke-width="1.1"/><ellipse cx="1530.8" cy="604.0" rx="4.3" ry="6.3" transform="rotate(5 1530.8 604.0)"/><ellipse cx="1524.5" cy="604.8" rx="5.7" ry="7.3" transform="rotate(5 1524.5 604.8)"/></g>
<g stroke="#5f6062" stroke-width="1.3" fill="#fff"><path d="M1521.5,949.6 L1533.0,950.2 L1533.0,960.6 L1522.5,964.0 Z" stroke="none"/><ellipse cx="1532.8" cy="955.3" rx="2.9" ry="5.4" transform="rotate(5 1532.8 955.3)"/><path d="M1521.5,949.6 L1532.2,950.0 M1523.0,963.9 L1533.6,960.5" fill="none" stroke-width="1.1"/><ellipse cx="1528.3" cy="956.0" rx="4.3" ry="6.3" transform="rotate(5 1528.3 956.0)"/><ellipse cx="1522.0" cy="956.8" rx="5.7" ry="7.3" transform="rotate(5 1522.0 956.8)"/></g>
<line x1="1487.6" y1="228.4" x2="1487.6" y2="254.0" stroke="#1d1d1b" stroke-width="1.3" />
<line x1="1772.3" y1="218.0" x2="1772.3" y2="243.0" stroke="#1d1d1b" stroke-width="1.3" />
<line x1="1823.3" y1="241.0" x2="1823.3" y2="264.0" stroke="#1d1d1b" stroke-width="1.3" />
<line x1="1486.5" y1="228.5" x2="1773.5" y2="217.5" stroke="#e31e24" stroke-width="4.2" stroke-linecap="butt"/>
<line x1="1772.0" y1="217.0" x2="1823.5" y2="241.5" stroke="#e31e24" stroke-width="4.2" stroke-linecap="butt"/>
<line x1="1840.8" y1="263.0" x2="1840.8" y2="1258.0" stroke="#e31e24" stroke-width="4.2" stroke-linecap="butt"/>
<line x1="1620.0" y1="261.0" x2="1620.0" y2="442.0" stroke="#e31e24" stroke-width="4.2" stroke-linecap="butt"/>
<line x1="1507.0" y1="442.0" x2="1761.5" y2="442.0" stroke="#e31e24" stroke-width="4.2" stroke-linecap="butt"/>
<line x1="1716.4" y1="453.5" x2="1716.4" y2="634.0" stroke="#e31e24" stroke-width="4.2" stroke-linecap="butt"/>
<line x1="1597.7" y1="643.0" x2="1597.7" y2="781.0" stroke="#e31e24" stroke-width="4.2" stroke-linecap="butt"/>
<line x1="1669.0" y1="784.0" x2="1669.0" y2="923.5" stroke="#e31e24" stroke-width="4.2" stroke-linecap="butt"/>
<line x1="1724.2" y1="932.0" x2="1724.2" y2="1110.0" stroke="#e31e24" stroke-width="4.2" stroke-linecap="butt"/>
<line x1="1506.0" y1="1087.5" x2="1565.0" y2="1045.5" stroke="#e31e24" stroke-width="4.2" stroke-linecap="butt"/>
<line x1="1664.8" y1="1118.0" x2="1664.8" y2="1292.0" stroke="#e31e24" stroke-width="4.2" stroke-linecap="butt"/>
<g transform="translate(1622.4,198.4) rotate(-2.2)" fill="#1d1d1b"><text x="-58.0" y="15.0865" font-size="42.2" font-weight="bold" textLength="46.9" lengthAdjust="spacingAndGlyphs">35</text><text x="-10.6" y="15.0865" font-size="41.1" textLength="68.6" lengthAdjust="spacingAndGlyphs">cm</text></g>
<g transform="translate(1802.0,209.0) rotate(27)" fill="#1d1d1b"><text x="-57.2" y="14.872000000000002" font-size="41.6" font-weight="bold" textLength="46.3" lengthAdjust="spacingAndGlyphs">34</text><text x="-10.4" y="14.872000000000002" font-size="40.6" textLength="67.6" lengthAdjust="spacingAndGlyphs">cm</text></g>
<g transform="translate(1648.5,352.5) rotate(90)" fill="#1d1d1b"><text x="-58.3" y="15.158000000000001" font-size="42.4" font-weight="bold" textLength="47.2" lengthAdjust="spacingAndGlyphs">22</text><text x="-10.6" y="15.158000000000001" font-size="41.3" textLength="68.9" lengthAdjust="spacingAndGlyphs">cm</text></g>
<g transform="translate(1553.0,407.5) rotate(0)" fill="#1d1d1b"><text x="-58.6" y="15.2295" font-size="42.6" font-weight="bold" textLength="47.4" lengthAdjust="spacingAndGlyphs">31</text><text x="-10.6" y="15.2295" font-size="41.5" textLength="69.2" lengthAdjust="spacingAndGlyphs">cm</text></g>
<g transform="translate(1739.5,546.0) rotate(90)" fill="#1d1d1b"><text x="-58.3" y="15.158000000000001" font-size="42.4" font-weight="bold" textLength="47.2" lengthAdjust="spacingAndGlyphs">22</text><text x="-10.6" y="15.158000000000001" font-size="41.3" textLength="68.9" lengthAdjust="spacingAndGlyphs">cm</text></g>
<g transform="translate(1624.3,720.7) rotate(90)" fill="#1d1d1b"><text x="-57.8" y="15.015" font-size="42.0" font-weight="bold" textLength="46.7" lengthAdjust="spacingAndGlyphs">17</text><text x="-10.5" y="15.015" font-size="41.0" textLength="68.2" lengthAdjust="spacingAndGlyphs">cm</text></g>
<g transform="translate(1699.3,858.4) rotate(90)" fill="#1d1d1b"><text x="-57.2" y="14.872000000000002" font-size="41.6" font-weight="bold" textLength="46.3" lengthAdjust="spacingAndGlyphs">17</text><text x="-10.4" y="14.872000000000002" font-size="40.6" textLength="67.6" lengthAdjust="spacingAndGlyphs">cm</text></g>
<g transform="translate(1750.6,1036.0) rotate(90)" fill="#1d1d1b"><text x="-58.8" y="15.301000000000002" font-size="42.8" font-weight="bold" textLength="47.6" lengthAdjust="spacingAndGlyphs">21</text><text x="-10.7" y="15.301000000000002" font-size="41.7" textLength="69.5" lengthAdjust="spacingAndGlyphs">cm</text></g>
<g transform="translate(1521.0,1046.5) rotate(-38)" fill="#1d1d1b"><text x="-57.2" y="14.872000000000002" font-size="41.6" font-weight="bold" textLength="46.3" lengthAdjust="spacingAndGlyphs">28</text><text x="-10.4" y="14.872000000000002" font-size="40.6" textLength="67.6" lengthAdjust="spacingAndGlyphs">cm</text></g>
<g transform="translate(1691.0,1217.5) rotate(90)" fill="#1d1d1b"><text x="-59.4" y="15.444000000000003" font-size="43.2" font-weight="bold" textLength="48.1" lengthAdjust="spacingAndGlyphs">21</text><text x="-10.8" y="15.444000000000003" font-size="42.1" textLength="70.2" lengthAdjust="spacingAndGlyphs">cm</text></g>
<g transform="translate(1870.0,762.5) rotate(90)" fill="#1d1d1b"><text x="-68.3" y="14.8005" font-size="41.4" font-weight="bold" textLength="70.4" lengthAdjust="spacingAndGlyphs">133</text><text x="2.6" y="14.8005" font-size="40.4" textLength="65.7" lengthAdjust="spacingAndGlyphs">cm</text></g>
</g>
<line x1="470.0" y1="788.0" x2="681.0" y2="847.0" stroke="#1d1d1b" stroke-width="1.6" />
<line x1="512.0" y1="1117.0" x2="694.0" y2="1028.5" stroke="#1d1d1b" stroke-width="1.6" />
</svg>
</body></html>
